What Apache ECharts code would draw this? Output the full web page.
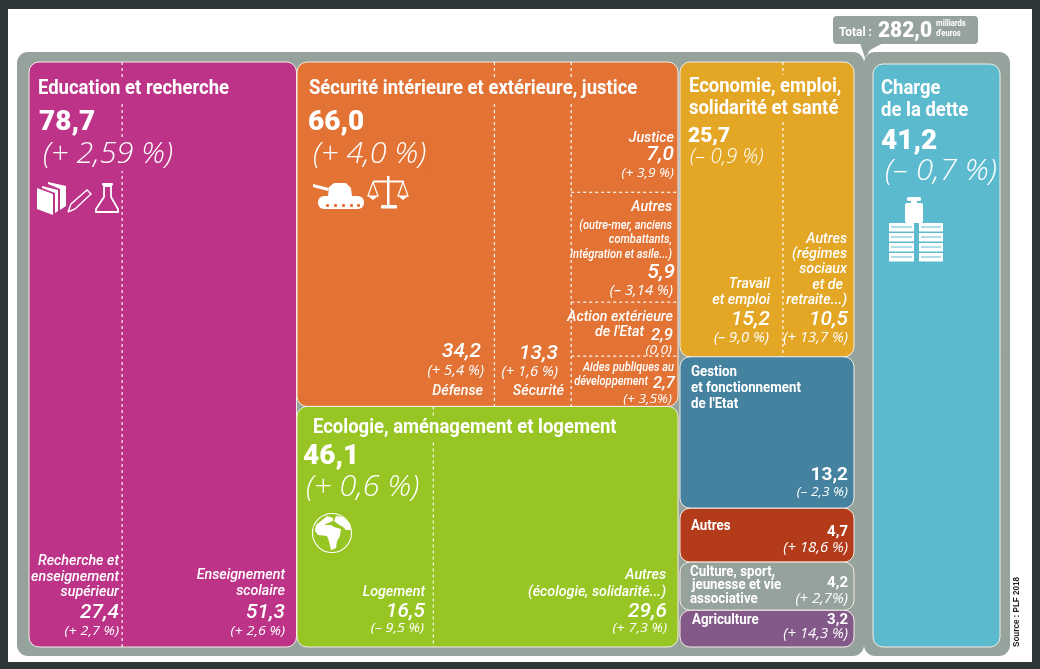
<!DOCTYPE html>
<html><head><meta charset="utf-8">
<style>html,body{margin:0;padding:0;background:#2e3639}#c{width:1040px;height:669px}</style>
<script src="https://cdn.jsdelivr.net/npm/echarts@6/dist/echarts.min.js"></script>
</head><body><div id="c"></div>
<script>
// ---------- data ----------
const groupNames = ['Education et recherche','Sécurité intérieure et extérieure, justice','Ecologie, aménagement et logement','Economie, emploi, solidarité et santé','Gestion et fonctionnement de l\'Etat','Autres','Culture, sport, jeunesse et vie associative','Agriculture','Charge de la dette'];
const groupValues = [78.7,66.0,46.1,25.7,13.2,4.7,4.2,3.2,41.2];
const groupChanges = ['(+ 2,59 %)','(+ 4,0 %)','(+ 0,6 %)','(– 0,9 %)','(– 2,3 %)','(+ 18,6 %)','(+ 2,7%)','(+ 14,3 %)','(– 0,7 %)'];
const groupColors = ['#bc3388','#e27335','#97c523','#e3a625','#44829f','#b43b1a','#96a39c','#83598a','#5cbace'];
const eduValues = [27.4,51.3];
const eduChanges = ['(+ 2,7 %)','(+ 2,6 %)'];
const secValues = [34.2,13.3];
const secChanges = ['(+ 5,4 %)','(+ 1,6 %)'];
const secSideValues = [7.0,5.9,2.9,2.7];
const secSideChanges = ['(+ 3,9 %)','(– 3,14 %)','(0,0)','(+ 3,5%)'];
const ecoValues = [16.5,29.6];
const ecoChanges = ['(– 9,5 %)','(+ 7,3 %)'];
const econValues = [15.2,10.5];
const econChanges = ['(– 9,0 %)','(+ 13,7 %)'];
const totalValue = 282.0;
const columns = [[0],[1,2],[3,4,5,6,7],[8]];

// ---------- helpers ----------
const sum = a => a.reduce((p,c)=>p+c,0);
const fmt = v => v.toFixed(1).replace('.',',');
const WHITE = '#ffffff', GREY = '#96a39c', DARK = '#2e3639';
const grids = [
  {left:29,top:62,width:267.5,height:585},
  {left:297,top:62,width:381,height:585},
  {left:680,top:62,width:174,height:585},
  {left:873,top:64,width:127,height:583}
];
function renderTile(params, api){
  const a = api.coord([api.value(0),api.value(2)]);
  const b = api.coord([api.value(1),api.value(3)]);
  return {type:'rect',shape:{x:a[0],y:a[1],width:b[0]-a[0],height:b[1]-a[1],r:10},
    style:{fill:groupColors[api.value(4)],stroke:'#f3ece4',lineWidth:1}};
}
function renderDash(params, api){
  const a = api.coord([api.value(0),api.value(1)]);
  const b = api.coord([api.value(2),api.value(3)]);
  return {type:'line',shape:{x1:a[0],y1:a[1],x2:b[0],y2:b[1]},
    style:{stroke:'#ffffff',lineWidth:1.2,lineDash:[3,3],opacity:.95}};
}
const series = [];
columns.forEach((ids,col)=>{
  let c = 0;
  const data = ids.map(i=>{const v=groupValues[i];const d={name:groupNames[i],value:[0,1,c,c+v,i]};c+=v;return d;});
  series.push({type:'custom',coordinateSystem:'cartesian2d',xAxisIndex:col,yAxisIndex:col,silent:true,z:2,renderItem:renderTile,data,encode:{x:[0,1],y:[2,3]}});
});
const eduSplit = eduValues[0]/sum(eduValues);
const secSplit1 = secValues[0]/groupValues[1];
const secSplit2 = (secValues[0]+secValues[1])/groupValues[1];
const ecoSplit = ecoValues[0]/sum(ecoValues);
const econSplit = econValues[0]/sum(econValues);
const sideTotal = sum(secSideValues);
const dashB = [
  [secSplit1,0,secSplit1,groupValues[1]],
  [secSplit2,0,secSplit2,groupValues[1]],
  [ecoSplit,groupValues[1],ecoSplit,groupValues[1]+groupValues[2]]
];
let sc = 0;
secSideValues.slice(0,3).forEach(v=>{sc+=v;const y=sc/sideTotal*groupValues[1];dashB.push([secSplit2,y,1,y]);});
const dashSeries = (col,data)=>({type:'custom',coordinateSystem:'cartesian2d',xAxisIndex:col,yAxisIndex:col,silent:true,z:3,renderItem:renderDash,data,encode:{x:[0,2],y:[1,3]}});
series.push(dashSeries(0,[[eduSplit,0,eduSplit,groupValues[0]]]));
series.push(dashSeries(1,dashB));
series.push(dashSeries(2,[[econSplit,0,econSplit,groupValues[3]]]));

const xAxis = grids.map((g,i)=>({type:'value',gridIndex:i,min:0,max:1,show:false}));
const yAxis = columns.map((ids,i)=>({type:'value',gridIndex:i,inverse:true,min:0,max:sum(ids.map(k=>groupValues[k])),show:false}));

// ---------- text ----------
const FONT = 'Roboto';
const g = [];
function T(x,y,text,o){
  o = o||{};
  g.push({type:'text',x,y,z:20,silent:true,scaleX:o.sx||1,rotation:o.rot||0,style:{
    text,fill:o.color||WHITE,fontFamily:o.font||FONT,fontSize:o.size||14,fontWeight:o.weight||'normal',
    fontStyle:o.italic?'italic':'normal',align:o.align||'left',verticalAlign:'middle',
    backgroundColor:o.bg,padding:o.bg?[2,1,2,1]:0}});
}
const title=(x,y,s,bg)=>T(x-1,y+2,s,{size:20,weight:'bold',sx:.925,bg});
const big=(x,y,v,size)=>T(x-1,y+3,fmt(v),{size:size||28,weight:'900',sx:1.0});
const pct=(x,y,s,bg,size,sx)=>T(x,y+1,s,{size:size||30,italic:true,weight:'300',bg,font:'Open Sans',sx:sx||1.02});
const subN=(x,y,s,size)=>T(x,y,s,{size:size||15.5,italic:true,weight:'500',align:'right',sx:.92});
const subV=(x,y,v,size)=>T(x,y,fmt(v),{size:size||20,italic:true,weight:'500',align:'right',sx:1.04});
const subP=(x,y,s,size)=>T(x,y,s,{size:size||13.5,italic:true,align:'right',sx:1.06,font:'Open Sans',weight:'normal'});

// Education
title(38,87,'Education et recherche',groupColors[0]);
big(40,120,groupValues[0]);
pct(42,153,groupChanges[0],groupColors[0]);
subN(119,561,'Recherche et');subN(119,577,'enseignement');subN(119,592,'supérieur');
subV(119,613,eduValues[0]);subP(119,631,eduChanges[0]);
subN(285,575,'Enseignement');subN(285,591,'scolaire');
subV(285,613,eduValues[1]);subP(285,631,eduChanges[1]);
// Securite
title(309,87,'Sécurité intérieure et extérieure, justice',groupColors[1]);
big(309,120,groupValues[1]);
pct(312,153,groupChanges[1],groupColors[1]);
subN(674,138,'Justice');subV(674,155,secSideValues[0]);subP(674,173,secSideChanges[0],13);
subN(672,207,'Autres');
subN(672,226,'(outre-mer, anciens',12);subN(672,240,'combattants,',12);subN(672,255,'intégration et asile...)',12);
subV(675,273,secSideValues[1]);subP(673,291,secSideChanges[1],14);
subN(673,317,'Action extérieure');subN(644,332,'de l\'Etat');subV(673,336,secSideValues[2],16);subP(672,350,secSideChanges[2],13);
subN(674,368,'Aides publiques au',12);subN(648,382,'développement',12);subV(675,384,secSideValues[3],16);subP(672,399,secSideChanges[3],13);
subV(481,352,secValues[0]);subP(484,371,secChanges[0],14);subN(483,391,'Défense');
subV(558,354,secValues[1]);subP(558,372,secChanges[1],14);subN(564,391,'Sécurité');
// Ecologie
title(313,426,'Ecologie, aménagement et logement',groupColors[2]);
big(304,454,groupValues[2]);
pct(306,486,groupChanges[2]);
subN(425,592,'Logement');subV(425,612,ecoValues[0]);subP(424,628,ecoChanges[0]);
subN(666,575,'Autres');subN(666,592,'(écologie, solidarité...)');subV(667,612,ecoValues[1]);subP(667,628,ecoChanges[1]);
// Economie
title(689,85,'Economie, emploi,',groupColors[3]);
title(689,107,'solidarité et santé',groupColors[3]);
big(689,134,groupValues[3],21);
pct(690,156,groupChanges[3],undefined,20);
subN(847,239,'Autres');subN(847,254,'(régimes');subN(847,269,'sociaux');subN(843,285,'et de');subN(847,300,'retraite...)');
subN(770,284,'Travail');subN(770,300,'et emploi');
subV(770,320,econValues[0]);subP(769,338,econChanges[0],14);
subV(848,320,econValues[1]);subP(848,338,econChanges[1],14);
// small blocks
const sb=(x,y,s)=>T(x,y,s,{size:14,weight:'bold',sx:.95});
const sv=(y,v,size)=>T(848,y,fmt(v),{size:size||15,weight:'bold',align:'right'});
sb(691,372,'Gestion');sb(691,388,'et fonctionnement');sb(691,404,'de l\'Etat');
sv(475,groupValues[4],19);subP(848,492,groupChanges[4],13);
sb(691,526,'Autres');sv(532,groupValues[5]);subP(848,548,groupChanges[5],14);
sb(690,572,'Culture, sport,');sb(692,585,'jeunesse et vie');sb(690,599,'associative');
sv(583,groupValues[6]);subP(848,599,groupChanges[6],14);
sb(692,620,'Agriculture');sv(620,groupValues[7]);subP(848,634,groupChanges[7],14);
// Charge
title(882,87,'Charge');title(882,109,'de la dette');
big(882,139,groupValues[8]);
pct(885,171,groupChanges[8],undefined,29,1.07);
// Total
T(839,33,'Total :',{size:12.5,weight:'bold',sx:.95});
T(878,31,fmt(totalValue),{size:22,weight:'900',sx:.95});
T(936,24,'milliards',{size:9,weight:'bold',sx:.85});
T(936,34,'d\'euros',{size:9,weight:'bold',sx:.85});
// Source
T(1016,647,'Source : PLF 2018',{size:9.5,weight:'bold',color:'#222',rot:Math.PI/2,sx:.85,font:'Liberation Sans'});

// ---------- backdrop and icons ----------
const shape=(type,shp,style,z)=>g.push({type,shape:shp,style,z:z===undefined?15:z,silent:true});
const R=(x,y,w,h,r,fill,z)=>shape('rect',{x,y,width:w,height:h,r:r||0},{fill:fill||WHITE},z);
const P=(pts,fill)=>shape('polygon',{points:pts},{fill:fill||WHITE});
const L=(pts,w)=>shape('polyline',{points:pts},{stroke:WHITE,lineWidth:w||1.4,fill:'none'});
R(8,9,1024,653,0,WHITE,-3);
R(17,52,847,604,11,GREY,-2);
R(864,52,146,604,11,GREY,-2);
R(833,16,145,28,4,GREY,-1);
shape('polygon',{points:[[860,43],[883,43],[870,50],[865,58]]},{fill:GREY},-1);
// books
P([[37,188],[53,194],[53,215],[37,209]]);
P([[42,186],[58,190],[58,211],[55,213],[55,193],[42,188]]);
P([[48,182],[66,186],[66,206],[60,210],[60,189],[48,184]]);
// pencil
L([[68,212],[71,204],[87,190],[91,194],[75,209],[68,212]]);
// flask
shape('polygon',{points:[[104,186],[111,186],[111,197],[118,209],[118,212],[96,212],[96,209],[104,197]]},{stroke:WHITE,lineWidth:1.8,fill:'none'});
R(102,183,11,2.5,1);
// tank
P([[313,184],[329,188],[328,191],[313,187]]);
shape('polygon',{points:[[328,196],[329,187],[334,183],[346,183],[351,188],[352,196]]},{fill:WHITE});
R(318,196,46,13,6);
[326,334,342,350,357].forEach(x=>R(x,204,3,3,1,groupColors[1]));
// scales
R(387,176,2.5,29);R(373,180.5,31,2);R(381,205,16,3.5,1);
L([[373,182],[368,196],[378,196],[373,182]],1.2);L([[403,182],[398,196],[408,196],[403,182]],1.2);
shape('polygon',{points:[[368,196],[378,196],[373,200]]},{fill:WHITE});
shape('polygon',{points:[[398,196],[408,196],[403,200]]},{fill:WHITE});
// globe
shape('circle',{cx:332,cy:533,r:19.5},{stroke:WHITE,lineWidth:1.1,fill:'none'});
P([[321,521],[327,516],[333,518],[333,521],[328,523],[324,525],[331,525],[334,527],[341,529],[340,536],[337,541],[336,548],[331,550],[329,541],[327,536],[318,535],[315,531],[316,525]]);
P([[336,516],[343,517],[350,524],[351,530],[346,530],[343,527],[338,524],[334,521]]);
// weight and coins
R(907,197,14,4,1.5);R(911,200,6,3);R(905,203,18,20,2);
[223,233,243,253].forEach(y=>{
  [[889,25],[919,24]].forEach(b=>{R(b[0],y,b[1],8.5);R(b[0]+2,y+3.5,b[1]-4,1,0,groupColors[8]);});
});

const chart = echarts.init(document.getElementById('c'),null,{renderer:'canvas'});
chart.setOption({
  animation:false,backgroundColor:DARK,
  grid:grids.map(b=>Object.assign({containLabel:false},b)),
  xAxis,yAxis,series,graphic:{elements:g}
});
</script></body></html>
